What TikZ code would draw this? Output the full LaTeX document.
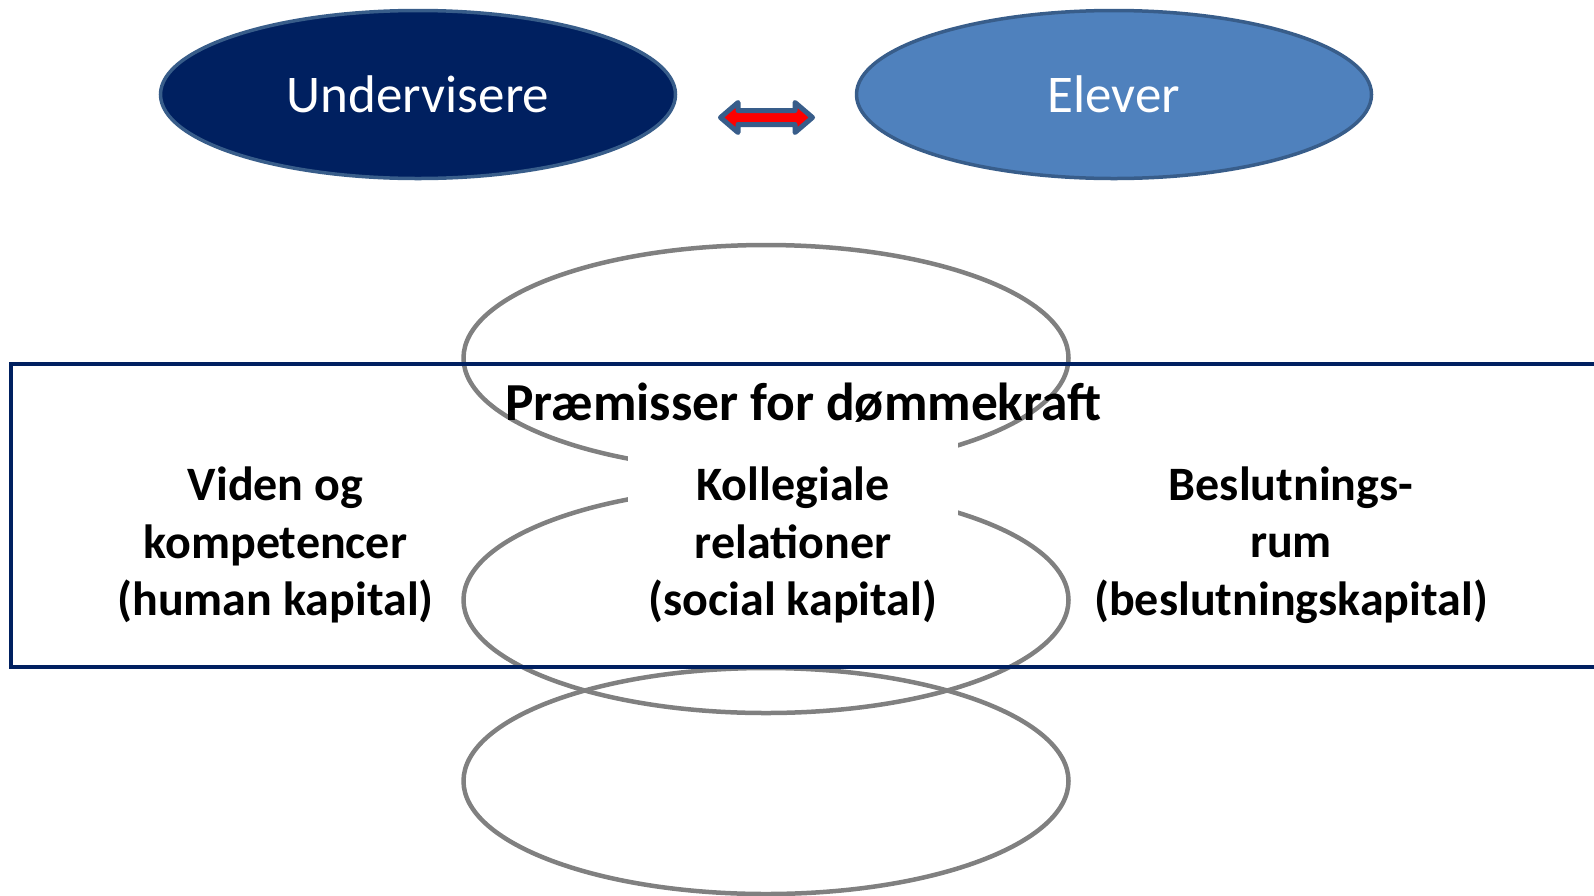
\documentclass[tikz,border=0pt]{standalone}
\usepackage{fontspec}
\setmainfont{Carlito}
\usetikzlibrary{shapes.geometric}
\definecolor{navy}{HTML}{002060}
\definecolor{edgeblue}{HTML}{385D8A}
\definecolor{midblue}{HTML}{4F81BD}
\definecolor{ringgray}{HTML}{808080}
\definecolor{arrowred}{HTML}{FF0000}
\begin{document}
\begin{tikzpicture}[x=1pt,y=-1pt,
  topell/.style={ellipse, draw=edgeblue, line width=3.5pt, minimum width=515pt, minimum height=168pt, inner sep=0pt, text=white, font=\fontsize{53}{60}\selectfont},
  ring/.style={ellipse, draw=ringgray, line width=4.5pt, minimum width=605pt, minimum height=226pt, inner sep=0pt},
  bodytext/.style={align=center, inner sep=0pt, font=\fontsize{48}{57.5}\selectfont\bfseries},
  titletext/.style={inner sep=0pt, font=\fontsize{53.5}{60}\selectfont\bfseries},
  frame/.style={draw=navy, line width=4pt},
  blockarrow/.style={draw=edgeblue, fill=arrowred, line width=5pt, line join=round}
]
\useasboundingbox (0,0) rectangle (1594,895);
% gray rings
\node[ring] (r1) at (766,358) {};
\node[ring] (r2) at (766,600) {};
\node[ring] (r3) at (766,781) {};
% frame
\draw[frame] (10.5,364) rectangle (1625,667);
% white backing for middle text
\node[fill=white, minimum width=330pt, minimum height=200pt, inner sep=0pt] (wb) at (793,537) {};
% top ellipses
\node[topell, fill=navy] (und) at (418,94.5) {Undervisere};
\node[topell, fill=midblue] (elv) at (1114,94.5) {Elever};
% double block arrow
\draw[blockarrow] (720.5,117.5) -- (738,102.5) -- (738,110.5) -- (795,110.5) -- (795,102.5)
  -- (812.5,117.5) -- (795,132.5) -- (795,124.5) -- (738,124.5) -- (738,132.5) -- cycle;
% texts
\node[titletext] (title) at (803.5,403) {Præmisser for dømmekraft};
\node[bodytext] (c1) at (275.5,545) {Viden og\\kompetencer\\(human kapital)};
\node[bodytext] (c2) at (793,545) {Kollegiale\\relationer\\(social kapital)};
\node[bodytext] (c3) at (1291,545) {Beslutnings-\\rum\\(beslutningskapital)};
\end{tikzpicture}
\end{document}
